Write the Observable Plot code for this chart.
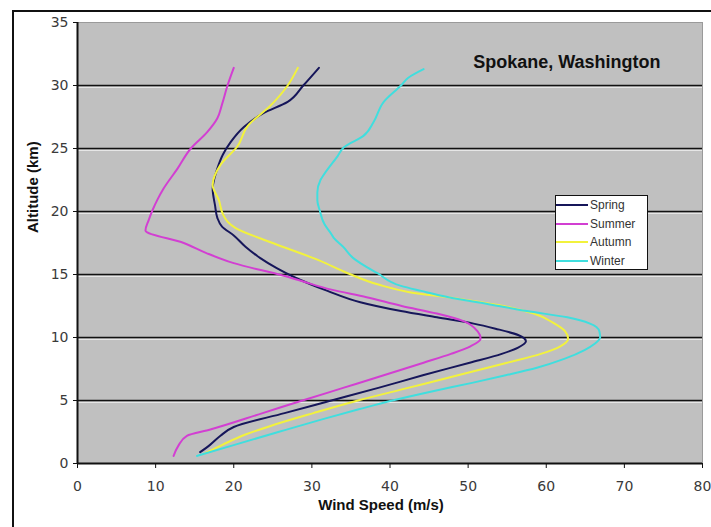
<!DOCTYPE html>
<html>
<head>
<meta charset="utf-8">
<script src="https://cdn.jsdelivr.net/npm/d3@7"></script>
<script src="https://cdn.jsdelivr.net/npm/@observablehq/plot@0.6"></script>
<style>
  html, body { margin: 0; padding: 0; background: #ffffff; }
  #wrap { position: relative; width: 711px; height: 527px; overflow: hidden; background: #ffffff; }
  #border { position: absolute; left: 12px; top: 10px; width: 720px; height: 540px; border-top: 2px solid #111; border-left: 2px solid #111; }
  #chart { position: absolute; left: 0; top: 0; }
  #legend { position: absolute; left: 555px; top: 195px; width: 93px; height: 75px; box-sizing: border-box;
            border: 1.5px solid #111; background: #ffffff; font-family: "Liberation Sans", Arial, sans-serif;
            font-size: 12px; color: #333; padding-top: 0px; }
  .row { display: flex; align-items: center; height: 18.5px; }
  .sw { width: 32px; height: 0; border-top: 2px solid; margin-right: 2px; }
</style>
</head>
<body>
<div id="wrap">
  <div id="border"></div>
  <div id="chart"></div>
  <div id="legend"></div>
</div>
<script>
// Categories and colours
const seasons = ["Spring", "Summer", "Autumn", "Winter"];
const seasonColors = ["#16165a", "#d23fd2", "#f2f23c", "#40dede"];

// [altitude km, wind speed m/s]
const spring = [[0.9,15.7],[1.5,17],[2.2,18.3],[2.9,20],[4,26.5],[5,32.5],[6,38.5],[7,44.2],[8,50.2],[8.7,54.3],[9.2,56.4],[9.7,57.4],[10.2,56.4],[10.7,53.5],[11.1,50.7],[11.6,46],[12.1,41.4],[12.8,36.2],[13.7,32],[14.8,27.7],[15.5,25.5],[16.3,23.4],[17.2,21.5],[18.1,20],[18.8,18.5],[19.5,17.9],[20.5,17.6],[21.8,17.3],[23.4,17.9],[24.5,18.6],[25.5,19.6],[26.7,21.3],[27.8,23.8],[28.7,26.9],[30,28.9],[31.4,30.9]];
const summer = [[0.6,12.3],[1.4,12.9],[2.2,14],[2.7,17],[4,23.7],[5,28.8],[6,34],[7,39.2],[8,44.3],[8.7,47.8],[9.3,50.3],[9.9,51.6],[10.5,51.2],[11.3,49.4],[11.9,46],[12.5,41.5],[13.2,37],[13.8,32.5],[14.5,28.6],[14.9,26.4],[15.9,20],[16.7,16.5],[17.5,13.6],[18.5,8.7],[19.3,9.1],[20.1,9.6],[20.9,10.2],[21.8,11],[23.4,12.8],[25,14.5],[26.3,16.6],[27.4,17.9],[28.5,18.5],[30,19.2],[31.4,20]];
const autumn = [[0.8,16.3],[1.5,18.6],[2.3,21.5],[3,24.8],[4,30.2],[5,35.9],[6,42.3],[7,48.7],[8,55],[8.7,59.3],[9.3,61.8],[9.9,62.8],[10.5,62.4],[11.2,60.8],[11.9,58.4],[12.5,54.5],[13.1,48.5],[13.6,42.5],[14.2,38.5],[15.1,34.6],[16.1,31],[17.5,25],[18.7,20.2],[19.2,19.2],[19.8,18.6],[20.9,18.1],[22.1,17.3],[23.7,18.3],[25.2,20.5],[26.8,21.8],[28.4,24.7],[30,26.9],[31.4,28.2]];
const winter = [[0.6,15.3],[1.5,20.2],[2.5,25.7],[3.5,31.3],[4.3,36],[5,40.3],[5.7,45.2],[6.4,50.5],[7,54.8],[7.6,58.8],[8.3,62.3],[9,64.9],[9.5,66.2],[10,66.9],[10.5,66.8],[11.1,65.6],[11.6,62.7],[12.1,57.5],[12.6,53],[13.2,47.5],[13.7,44],[14.1,41.4],[15.1,38.4],[15.9,36.2],[16.3,35.3],[17.2,34],[17.9,32.8],[18.2,32.5],[19,31.6],[20.1,31],[20.9,30.7],[21.5,30.7],[22.5,31.1],[22.9,31.5],[24.4,33.3],[25.1,34.1],[26,36.6],[27.1,37.9],[28.7,39.2],[30,41.4],[30.6,42.3],[31.3,44.3]];

// Tick values
const xTicks = [0, 10, 20, 30, 40, 50, 60, 70, 80];
const yTicks = [0, 5, 10, 15, 20, 25, 30, 35];
const gridAlts = [5, 10, 15, 20, 25, 30];

const title = "Spokane, Washington";
const xLabel = "Wind Speed (m/s)";
const yLabel = "Altitude (km)";

const seriesList = [spring, summer, autumn, winter];
const rows = [];
seriesList.forEach((s, i) => s.forEach(([alt, speed]) => rows.push({season: seasons[i], alt, speed})));

const chart = Plot.plot({
  width: 711,
  height: 527,
  marginLeft: 77,
  marginRight: 9,
  marginTop: 22,
  marginBottom: 64,
  style: {background: "transparent", color: "#222", fontFamily: "DejaVu Sans, sans-serif"},
  x: {domain: [0, 80]},
  y: {domain: [0, 35]},
  color: {domain: seasons, range: seasonColors},
  marks: [
    Plot.frame({fill: "#c0c0c0", stroke: "#9a9a9a"}),
    Plot.ruleY(gridAlts, {stroke: "#e6e6e6", strokeWidth: 1, dy: 2}),
    Plot.ruleY(gridAlts, {stroke: "#111", strokeWidth: 1.6}),
    Plot.line(rows, {x: "speed", y: "alt", z: "season", stroke: "season", strokeWidth: 2, curve: "monotone-y"}),
    Plot.ruleX([0], {stroke: "#111", strokeWidth: 2}),
    Plot.ruleY([0], {stroke: "#111", strokeWidth: 2}),
    Plot.axisX({ticks: xTicks, tickSize: 5, tickPadding: 13, fontSize: 14, label: null, fill: "#3a3a3a", stroke: "#111"}),
    Plot.axisY({ticks: yTicks, tickSize: 4, tickPadding: 5, fontSize: 14, label: null, fill: "#3a3a3a", stroke: "#111"}),
    Plot.text([title], {text: d => d, frameAnchor: "top-right", dx: -42, dy: 40, textAnchor: "end", lineAnchor: "middle",
      fontWeight: "bold", fontSize: 18, fontFamily: "Liberation Sans, Arial, sans-serif", fill: "#111"}),
    Plot.text([xLabel], {text: d => d, frameAnchor: "bottom", dx: -9, dy: 42, lineAnchor: "middle",
      fontWeight: "bold", fontSize: 15, fontFamily: "Liberation Sans, Arial, sans-serif", fill: "#111"}),
    Plot.text([yLabel], {text: d => d, frameAnchor: "left", dx: -44, dy: -10, rotate: -90, lineAnchor: "middle",
      fontWeight: "bold", fontSize: 15, fontFamily: "Liberation Sans, Arial, sans-serif", fill: "#111"})
  ]
});
document.getElementById("chart").appendChild(chart);

const legend = document.getElementById("legend");
seasons.forEach((s, i) => {
  const row = document.createElement("div");
  row.className = "row";
  const sw = document.createElement("span");
  sw.className = "sw";
  sw.style.borderTopColor = seasonColors[i];
  const label = document.createElement("span");
  label.textContent = s;
  row.appendChild(sw);
  row.appendChild(label);
  legend.appendChild(row);
});
</script>
</body>
</html>
